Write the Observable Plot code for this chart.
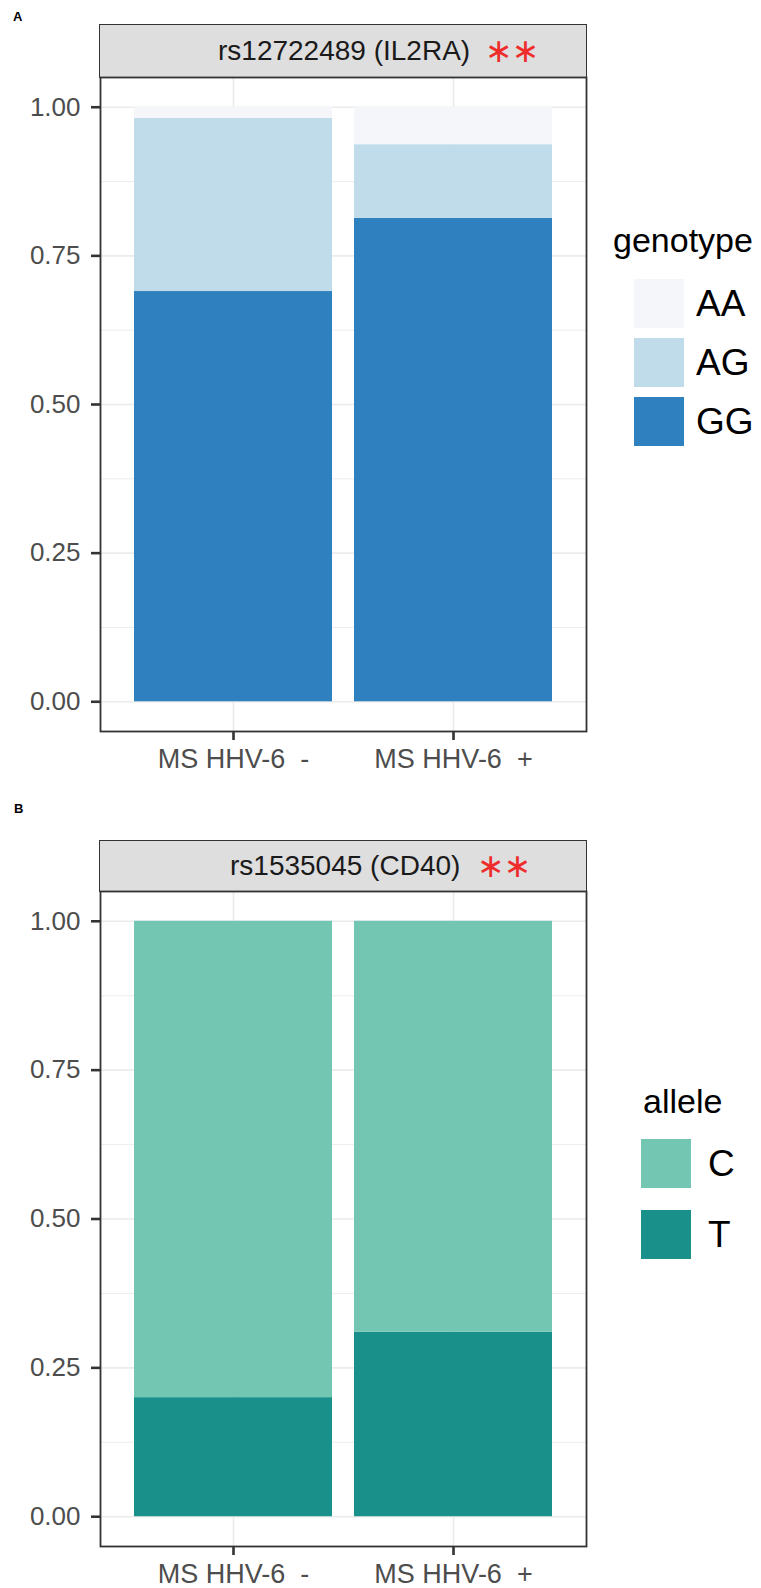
<!DOCTYPE html>
<html>
<head>
<meta charset="utf-8">
<script src="https://cdn.jsdelivr.net/npm/d3@7"></script>
<script src="https://cdn.jsdelivr.net/npm/@observablehq/plot@0.6"></script>
<style>
  body { margin: 0; background: #fff; font-family: "Liberation Sans", Arial, sans-serif; }
  #root { position: relative; width: 761px; height: 1588px; overflow: hidden; background: #fff; }
  .abs { position: absolute; white-space: pre; line-height: normal; }
  .mid { position: absolute; display: flex; align-items: center; white-space: pre; }
  .strip { position: absolute; box-sizing: border-box; border: 1.8px solid #333; background: #dedede; }
  svg text { white-space: pre; }
</style>
</head>
<body>
<div id="root"></div>
<script>
// ---------- data ----------
const groups = ["MS HHV-6  -", "MS HHV-6  +"];

const genotypes = ["AA", "AG", "GG"];
const genotypeColors = ["#f4f6fa", "#c0dcea", "#2e80bf"];
const gtGG = [0.690, 0.813];
const gtAG = [0.291, 0.124];
const gtAA = [0.019, 0.063];

const alleles = ["C", "T"];
const alleleColors = ["#73c6b2", "#19918a"];
const alT = [0.20, 0.31];
const alC = [0.80, 0.69];

const yTicks = [0, 0.25, 0.5, 0.75, 1];
const yMinor = [0.125, 0.375, 0.625, 0.875];

const stripA = "rs12722489 (IL2RA)";
const stripB = "rs1535045 (CD40)";
const signif = "∗∗";

// ---------- build tables ----------
const rowsA = groups.flatMap((g, i) => [
  {group: g, genotype: "GG", value: gtGG[i]},
  {group: g, genotype: "AG", value: gtAG[i]},
  {group: g, genotype: "AA", value: gtAA[i]}
]);
const rowsB = groups.flatMap((g, i) => [
  {group: g, allele: "T", value: alT[i]},
  {group: g, allele: "C", value: alC[i]}
]);

const root = document.getElementById("root");
const FONT = "Liberation Sans, Arial, sans-serif";

function el(cls, css, text) {
  const d = document.createElement("div");
  d.className = cls;
  Object.assign(d.style, css);
  if (text != null) d.textContent = text;
  root.appendChild(d);
  return d;
}

function panel({rows, key, domain, colors, order, top, panelH, marginBottom}) {
  const plot = Plot.plot({
    width: 761,
    height: 2 + panelH + marginBottom,
    marginLeft: 100,
    marginRight: 175,
    marginTop: 2,
    marginBottom,
    style: {fontFamily: FONT, background: "transparent", overflow: "visible"},
    x: {type: "band", domain: groups, paddingInner: 0.1, paddingOuter: 0.15, align: 0.5, label: null},
    y: {domain: [-0.05, 1.05], label: null},
    color: {domain, range: colors},
    marks: [
      Plot.gridY(yMinor, {stroke: "#ebebeb", strokeOpacity: 1, strokeWidth: 0.9}),
      Plot.gridY(yTicks, {stroke: "#ebebeb", strokeOpacity: 1, strokeWidth: 1.7}),
      Plot.gridX(groups, {stroke: "#ebebeb", strokeOpacity: 1, strokeWidth: 1.7}),
      Plot.barY(rows, {x: "group", y: "value", fill: key, order}),
      Plot.frame({stroke: "#333", strokeWidth: 1.8}),
      Plot.axisY(yTicks, {tickSize: 9, tickPadding: 11, tickFormat: d3.format(".2f"), fontSize: 26,
        fill: "#4d4d4d", stroke: "#333", strokeWidth: 2.6, label: null}),
      Plot.axisX(groups, {tickSize: 9, tickPadding: 8, fontSize: 27, fill: "#4d4d4d", stroke: "#333",
        strokeWidth: 2.6, label: null, tickFormat: d => d.replace(/ /g, "\u00a0")})
    ]
  });
  plot.style.position = "absolute";
  plot.style.left = "0px";
  plot.style.top = top + "px";
  root.appendChild(plot);
  return plot;
}

function strip({label, top, height, labelLeft, starLeft}) {
  el("strip", {left: "99px", top: top + "px", width: "488px", height: height + "px"});
  el("mid", {left: labelLeft + "px", top: top + "px", height: height + "px", fontSize: "28px", color: "#1a1a1a"}, label);
  el("mid", {left: starLeft + "px", top: (top - 1) + "px", height: height + "px", fontSize: "33px", color: "#ee2c2c",
    fontFamily: "DejaVu Sans, sans-serif", letterSpacing: "-1px"}, signif);
}

function legend({plot, title, items, titleLeft, titleBaseline, keyLeft, keyTops, labelLeft}) {
  const sc = plot.scale("color");
  const col = d3.scaleOrdinal(sc.domain, sc.range);
  el("abs", {left: titleLeft + "px", top: (titleBaseline - 0.905 * 34) + "px", fontSize: "34px", color: "#000"}, title);
  items.forEach((it, i) => {
    el("abs", {left: keyLeft + "px", top: keyTops[i] + "px", width: "50px", height: "49px", background: col(it)});
    el("mid", {left: labelLeft + "px", top: keyTops[i] + "px", height: "49px", fontSize: "37px", color: "#000"}, it);
  });
}

// ---------- Panel A ----------
el("abs", {left: "13px", top: (21 - 0.905 * 13) + "px", fontSize: "13px", fontWeight: "bold", color: "#000"}, "A");
strip({label: stripA, top: 24, height: 54, labelLeft: 218, starLeft: 485});
const plotA = panel({rows: rowsA, key: "genotype", domain: genotypes, colors: genotypeColors,
  order: ["GG", "AG", "AA"], top: 75, panelH: 654, marginBottom: 50});
legend({plot: plotA, title: "genotype", items: genotypes, titleLeft: 613, titleBaseline: 252,
  keyLeft: 634, keyTops: [279, 338, 397], labelLeft: 696});

// ---------- Panel B ----------
el("abs", {left: "14px", top: (813 - 0.905 * 13) + "px", fontSize: "13px", fontWeight: "bold", color: "#000"}, "B");
strip({label: stripB, top: 840, height: 52, labelLeft: 230, starLeft: 477});
const plotB = panel({rows: rowsB, key: "allele", domain: alleles, colors: alleleColors,
  order: ["T", "C"], top: 889, panelH: 655, marginBottom: 42});
legend({plot: plotB, title: "allele", items: alleles, titleLeft: 643, titleBaseline: 1113,
  keyLeft: 641, keyTops: [1139, 1210], labelLeft: 708});
</script>
</body>
</html>
